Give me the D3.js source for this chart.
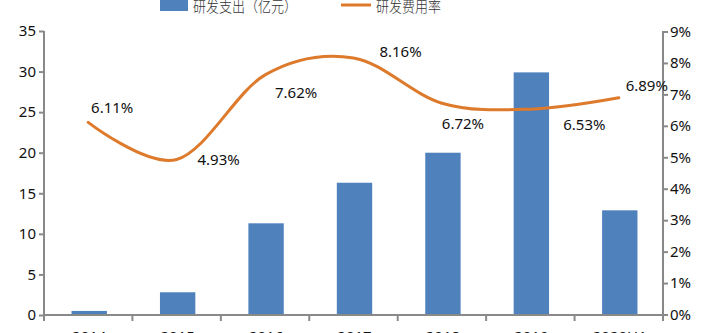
<!DOCTYPE html>
<html>
<head>
<meta charset="utf-8">
<script src="https://cdn.jsdelivr.net/npm/d3@7/dist/d3.min.js"></script>
<style>
  body { margin: 0; background: #fff; }
  svg { display: block; }
</style>
</head>
<body>
<div id="chart"></div>
<script>
// Chart data
const categories = ["2014", "2015", "2016", "2017", "2018", "2019", "2020H1"];
const spending = [0.5, 2.8, 11.3, 16.3, 20.0, 29.9, 12.9];      // 研发支出（亿元）
const expenseRate = [6.11, 4.93, 7.62, 8.16, 6.72, 6.53, 6.89];  // 研发费用率 (%)
const leftTicks = [0, 5, 10, 15, 20, 25, 30, 35];
const rightTicks = [0, 1, 2, 3, 4, 5, 6, 7, 8, 9];
const legendLabels = ["研发支出（亿元）", "研发费用率"];

const width = 711, height = 333;
const plotLeft = 44, plotRight = 663, plotTop = 31, plotBottom = 315;
const axisColor = "#898989";
const barColor = "#4F81BD";
const lineColor = "#DD7A2C";
const font = "'Noto Sans', 'Open Sans', sans-serif";
const cjkFont = "'Noto Sans CJK SC', sans-serif";

const svg = d3.select("#chart").append("svg")
    .attr("width", width)
    .attr("height", height);

// Scales
const x = d3.scaleBand()
    .domain(categories)
    .range([plotLeft, plotRight])
    .padding(0);

const yLeft = d3.scaleLinear()
    .domain([0, 35])
    .range([plotBottom, plotTop]);

const yRight = d3.scaleLinear()
    .domain([0, 9])
    .range([plotBottom - 0.5, plotTop + 0.5]);

// Bars
const barW = x.bandwidth() * 0.4;
svg.selectAll(".bar")
    .data(categories)
    .enter()
    .append("rect")
    .attr("class", "bar")
    .attr("x", d => x(d) + x.bandwidth() / 2 - barW / 2 + 1)
    .attr("width", barW)
    .attr("y", (d, i) => yLeft(spending[i]))
    .attr("height", (d, i) => plotBottom - yLeft(spending[i]))
    .attr("fill", barColor);

// Left axis
const gl = svg.append("g")
    .attr("transform", `translate(${plotLeft},0)`)
    .call(d3.axisLeft(yLeft).tickValues(leftTicks).tickSize(5).tickPadding(3));
gl.select(".domain").attr("stroke", axisColor).attr("stroke-width", 2).attr("d", `M0,${plotTop}V${plotBottom}`);
gl.selectAll(".tick line").attr("stroke", axisColor).attr("stroke-width", 2);
gl.selectAll(".tick text")
    .style("font-family", font)
    .style("font-size", "15px")
    .attr("fill", "#111");

// Right axis
const gr = svg.append("g")
    .attr("transform", `translate(${plotRight},0)`)
    .call(d3.axisRight(yRight).tickValues(rightTicks).tickFormat(d => d + "%").tickSize(5).tickPadding(2));
gr.select(".domain").attr("stroke", axisColor).attr("stroke-width", 2).attr("d", `M0,${plotTop}V${plotBottom}`);
gr.selectAll(".tick line").attr("stroke", axisColor).attr("stroke-width", 2);
gr.selectAll(".tick text")
    .style("font-family", font)
    .style("font-size", "15px")
    .attr("fill", "#111");

// Bottom axis with ticks between categories
svg.append("line")
    .attr("x1", plotLeft).attr("x2", plotRight)
    .attr("y1", plotBottom).attr("y2", plotBottom)
    .attr("stroke", axisColor).attr("stroke-width", 2);

const boundaries = categories.map(c => x(c)).concat([x(categories[categories.length - 1]) + x.bandwidth()]);
svg.selectAll(".xtick")
    .data(boundaries)
    .enter()
    .append("line")
    .attr("x1", d => d).attr("x2", d => d)
    .attr("y1", plotBottom).attr("y2", plotBottom + 6)
    .attr("stroke", axisColor).attr("stroke-width", 2);

// category labels sit mostly below the visible area, as in the reference
svg.selectAll(".xlabel")
    .data(categories)
    .enter()
    .append("text")
    .attr("x", d => x(d) + x.bandwidth() / 2 + 1)
    .attr("y", plotBottom + 27)
    .attr("text-anchor", "middle")
    .style("font-family", font)
    .style("font-size", "15px")
    .attr("fill", "#111")
    .text(d => d);

// Smoothed rate line
const line = d3.line()
    .x((d, i) => x(categories[i]) + x.bandwidth() / 2)
    .y(d => yRight(d))
    .curve(d3.curveCardinal.tension(0));

svg.append("path")
    .datum(expenseRate)
    .attr("fill", "none")
    .attr("stroke", lineColor)
    .attr("stroke-width", 3)
    .attr("stroke-linecap", "round")
    .attr("d", line);

// Data labels (offsets relative to each point)
const labelOffsets = [[24, -15], [42, 0], [31, 17.5], [47, -6.5], [21, 20], [54, 14.5], [28, -13]];
svg.selectAll(".rlabel")
    .data(expenseRate)
    .enter()
    .append("text")
    .attr("x", (d, i) => x(categories[i]) + x.bandwidth() / 2 + labelOffsets[i][0])
    .attr("y", (d, i) => yRight(d) + labelOffsets[i][1])
    .attr("text-anchor", "middle")
    .attr("dominant-baseline", "central")
    .style("font-family", font)
    .style("font-size", "15px")
    .attr("fill", "#111")
    .text(d => d.toFixed(2) + "%");

// Legend (partially cut by the top edge, as in the reference)
const legend = svg.append("g");
legend.append("rect")
    .attr("x", 160).attr("y", -4)
    .attr("width", 28).attr("height", 15)
    .attr("fill", barColor);
legend.append("text")
    .attr("x", 193).attr("y", 12)
    .attr("textLength", 104)
    .attr("lengthAdjust", "spacingAndGlyphs")
    .style("font-family", cjkFont)
    .style("font-size", "15px")
    .style("font-weight", "300")
    .attr("fill", "#333")
    .text(legendLabels[0]);
legend.append("line")
    .attr("x1", 341).attr("x2", 371)
    .attr("y1", 5).attr("y2", 5)
    .attr("stroke", lineColor)
    .attr("stroke-width", 3);
legend.append("text")
    .attr("x", 376).attr("y", 12)
    .attr("textLength", 65)
    .attr("lengthAdjust", "spacingAndGlyphs")
    .style("font-family", cjkFont)
    .style("font-size", "15px")
    .style("font-weight", "300")
    .attr("fill", "#333")
    .text(legendLabels[1]);
</script>
</body>
</html>
